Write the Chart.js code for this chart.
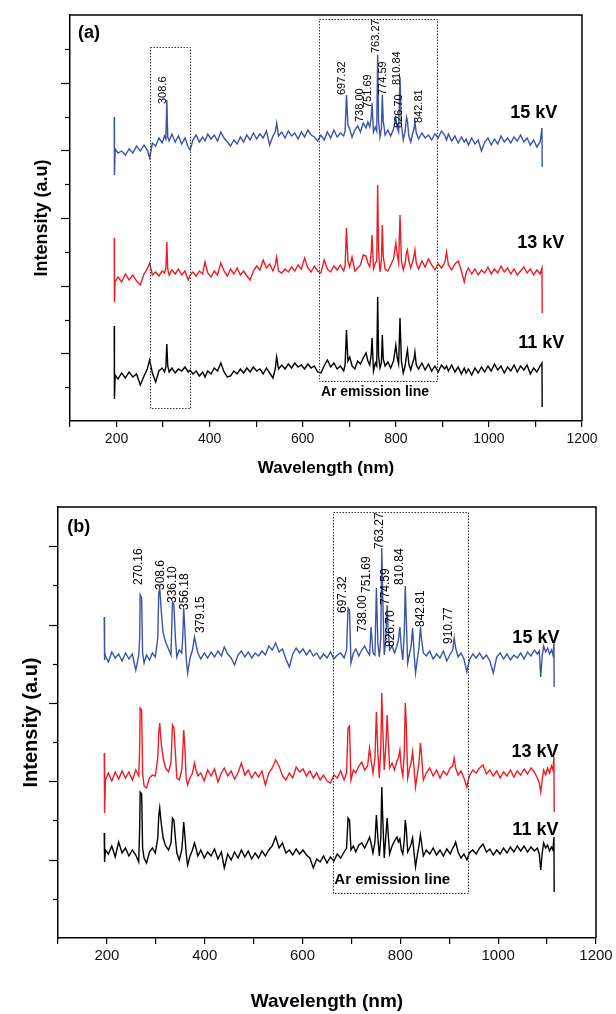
<!DOCTYPE html>
<html>
<head>
<meta charset="utf-8">
<script src="https://cdn.jsdelivr.net/npm/chart.js@4.4.1/dist/chart.umd.min.js"></script>
<style>
body { margin: 0; background: #fff; }
#wrapA { position: absolute; left: 0; top: 0; width: 616px; height: 490px; }
#wrapB { position: absolute; left: 0; top: 490px; width: 616px; height: 524px; }
</style>
</head>
<body>
<div id="wrapA"><canvas id="chartA"></canvas></div>
<div id="wrapB"><canvas id="chartB"></canvas></div>
<script>
// ---- panel (a) data: wavelength (nm) and stacked intensity (a.u.) ----
var wlA = [
  195, 195.5, 197, 203, 211, 219, 227, 235, 243, 251,
  259, 266, 271, 277, 284, 291, 298, 303, 306, 308,
  310, 313, 319, 326, 333, 340, 347, 354, 358, 364,
  371, 378, 385, 390, 396, 403, 410, 417, 424, 431,
  438, 445, 452, 459, 466, 473, 480, 487, 494, 501,
  508, 515, 522, 529, 536, 541, 544, 548, 555, 562,
  569, 576, 583, 590, 597, 604, 611, 618, 625, 632,
  639, 646, 653, 660, 667, 674, 681, 688, 691, 694,
  697, 701, 706, 712, 718, 724, 730, 736, 740, 744,
  747, 749, 752, 756, 759, 761, 763, 766, 769, 771,
  773, 777, 783, 789, 795, 800, 803, 806, 809, 812,
  816, 820, 823, 825, 828, 832, 836, 839, 841, 844,
  849, 856, 863, 870, 877, 884, 891, 898, 905, 909,
  913, 920, 927, 934, 941, 947, 951, 956, 963, 970,
  977, 984, 991, 998, 1005, 1012, 1019, 1026, 1033, 1040,
  1047, 1054, 1061, 1068, 1075, 1082, 1089, 1096, 1103, 1110,
  1114, 1114.5, 1115
];
var a15kV = [
  304, 246, 272, 268, 270, 266, 272, 268, 275, 270,
  276, 271, 263, 278, 275, 283, 278, 285, 282, 321,
  284, 280, 287, 279, 285, 277, 283, 274, 271, 281,
  286, 279, 284, 280, 287, 282, 286, 280, 289, 283,
  279, 275, 281, 277, 284, 279, 286, 281, 288, 282,
  287, 283, 290, 276, 285, 289, 298, 285, 289, 283,
  290, 285, 288, 282, 289, 284, 291, 286, 284, 280,
  286, 281, 289, 283, 291, 284, 288, 285, 290, 326,
  296, 292, 284, 291, 295, 289, 298, 293, 299, 294,
  303, 318, 289, 294, 290, 366, 300, 284, 292, 326,
  300, 286, 291, 285, 292, 303, 293, 289, 344, 296,
  281, 290, 304, 300, 285, 279, 287, 292, 299, 288,
  282, 288, 283, 286, 281, 287, 283, 290, 286, 281,
  287, 280, 285, 278, 284, 279, 282, 276, 283, 277,
  281, 270, 279, 283, 276, 282, 277, 285, 279, 283,
  278, 284, 280, 286, 279, 283, 276, 281, 274, 279,
  293, 254, 254
];
var a13kV = [
  183, 119, 139, 144, 139, 147, 141, 146, 140, 136,
  147, 152, 158, 146, 149, 145, 150, 148, 153, 179,
  152, 146, 151, 147, 152, 146, 150, 141, 146, 149,
  145, 150, 147, 159, 148, 144, 150, 146, 158, 150,
  145, 152, 147, 153, 146, 150, 145, 141, 150, 155,
  151, 161, 153, 157, 150, 156, 164, 150, 148, 152,
  149, 154, 150, 156, 152, 163, 153, 149, 155, 150,
  148, 161, 152, 149, 155, 151, 156, 150, 155, 193,
  160, 154, 164, 150, 153, 156, 166, 165, 158, 154,
  168, 186, 152, 158, 160, 236, 170, 149, 160, 196,
  165, 152, 150, 156, 162, 178, 166, 158, 206, 160,
  151, 158, 168, 171, 160, 153, 159, 165, 171, 158,
  152, 160, 154, 162, 156, 151, 157, 153, 158, 169,
  156, 151, 157, 160, 150, 139, 148, 153, 147, 152,
  146, 151, 148, 154, 147, 152, 148, 155, 149, 153,
  147, 152, 146, 150, 154, 148, 152, 146, 151, 147,
  153, 108, 108
];
var a11kV = [
  95, 22, 46, 42, 48, 43, 49, 44, 47, 36,
  45, 52, 61, 48, 39, 50, 53, 49, 54, 77,
  55, 49, 53, 48, 52, 50, 54, 49, 51, 47,
  50, 45, 49, 44, 50, 47, 53, 50, 58, 49,
  44, 45, 50, 47, 52, 48, 53, 49, 54, 50,
  52, 47, 53, 48, 43, 52, 64, 52, 56, 52,
  57, 53, 58, 54, 56, 52, 57, 53, 55, 49,
  48, 55, 61, 54, 58, 52, 55, 50, 56, 91,
  60, 64, 55, 52, 60, 57, 63, 68, 60, 56,
  66, 83, 50, 58, 55, 124, 65, 53, 58, 86,
  62, 55, 59, 53, 60, 76, 63, 57, 103, 60,
  48, 55, 66, 71, 57, 51, 58, 62, 69, 56,
  52, 58, 51, 57, 50, 55, 49, 56, 52, 55,
  50, 56, 49, 54, 47, 53, 48, 52, 46, 53,
  48, 54, 49, 55, 50, 57, 51, 55, 48, 54,
  50, 56, 49, 55, 51, 56, 47, 53, 49, 55,
  58, 14, 14
];

// ---- panel (b) data ----
var wlB = [
  194.5, 195, 195.5, 197, 203, 210, 217, 224, 231, 238,
  245, 252, 259, 265, 267, 268, 271, 273, 276, 281,
  287, 293, 299, 304, 306, 308, 311, 315, 320, 326,
  331, 334, 337, 340, 343, 348, 353, 355, 357, 359,
  362, 365, 370, 375, 379, 382, 386, 392, 399, 406,
  413, 420, 427, 434, 440, 447, 454, 461, 468, 475,
  482, 489, 496, 503, 510, 517, 524, 531, 538, 545,
  552, 559, 566, 573, 580, 587, 594, 601, 608, 615,
  622, 629, 636, 643, 650, 657, 664, 671, 678, 685,
  690, 693, 696, 699, 704, 709, 715, 721, 727, 733,
  737, 740, 744, 748, 751, 754, 757, 760, 762, 764,
  767, 770, 773, 775, 778, 783, 788, 793, 796, 799,
  802, 805, 808, 810, 812, 815, 819, 822, 825, 828,
  831, 835, 838, 841, 843, 847, 853, 860, 867, 874,
  881, 888, 895, 902, 907, 910, 913, 918, 924, 930,
  936, 941, 948, 955, 962, 969, 976, 983, 990, 997,
  1004, 1011, 1018, 1025, 1032, 1039, 1046, 1053, 1060, 1067,
  1074, 1080, 1084, 1087, 1090, 1093, 1097, 1101, 1105, 1109,
  1112, 1114, 1114.5, 1115
];
var b15kV = [
  321, 278, 287, 282, 276, 286, 280, 284, 277, 285,
  279, 284, 268, 282, 300, 343, 340, 285, 275, 283,
  278, 285, 281, 300, 345, 350, 328, 305, 296, 289,
  283, 336, 333, 300, 281, 288, 285, 300, 330, 312,
  280, 265, 280, 288, 301, 294, 285, 279, 285, 280,
  286, 281, 287, 282, 291, 284, 280, 273, 283, 287,
  281, 286, 280, 285, 282, 287, 283, 292, 288, 295,
  286, 289, 279, 271, 284, 290, 285, 289, 283, 288,
  282, 285, 279, 284, 280, 286, 279, 283, 285, 280,
  288, 330, 328, 275, 285, 289, 282, 288, 292, 286,
  283, 311, 285, 283, 350, 295, 281, 300, 390, 340,
  283, 298, 333, 310, 288, 292, 285, 292, 298, 311,
  290, 278, 305, 352, 320, 275, 285, 292, 310, 285,
  265, 280, 290, 311, 300, 285, 282, 287, 279, 284,
  280, 287, 277, 284, 288, 300, 290, 281, 285, 279,
  266, 278, 284, 280, 285, 279, 283, 277, 265, 281,
  285, 279, 284, 278, 283, 280, 285, 279, 286, 282,
  288, 284, 287, 261, 282, 292, 286, 290, 284, 288,
  283, 295, 251, 251
];
var b13kV = [
  185, 160, 125, 158, 165, 157, 166, 159, 167, 160,
  166, 158, 168, 162, 190, 230, 228, 165, 152, 150,
  160, 163, 162, 180, 205, 215, 195, 180, 170, 166,
  175, 213, 210, 185, 160, 158, 168, 185, 208, 195,
  160, 153, 160, 165, 175, 168, 162, 165, 157, 168,
  162, 169, 156, 165, 170, 162, 167, 159, 165, 175,
  163, 168, 160, 166, 161, 167, 153, 165, 170, 178,
  172, 162, 158, 165, 160, 171, 166, 169, 162, 167,
  160, 165, 158, 163, 157, 155, 163, 160, 167, 158,
  165, 210, 212, 158, 168, 165, 172, 176, 168, 172,
  190, 178, 165, 180, 226, 185, 160, 190, 245, 210,
  168, 190, 223, 200, 170, 175, 168, 177, 180, 188,
  170, 162, 185, 235, 215, 160, 170, 175, 186, 170,
  151, 165, 175, 195, 185, 158, 165, 170, 162, 168,
  160, 167, 163, 170, 172, 180, 170, 163, 167, 160,
  151, 162, 168, 165, 170, 173, 164, 168, 162, 167,
  160, 166, 162, 168, 161, 167, 163, 169, 164, 170,
  166, 160, 155, 146, 158, 168, 163, 170, 165, 172,
  168, 181, 126, 126
];
var b11kV = [
  105, 90, 76, 88, 84, 92, 81, 96, 85, 90,
  82, 88, 83, 76, 110, 146, 144, 90, 80, 75,
  86, 90, 85, 100, 122, 130, 115, 100, 92, 88,
  95, 120, 118, 100, 85, 78, 88, 100, 116, 105,
  85, 73, 82, 88, 95, 90, 82, 88, 80, 86,
  82, 89, 79, 86, 70, 84, 78, 86, 80, 88,
  81, 87, 79, 85, 80, 87, 82, 88, 92, 101,
  90, 95, 85, 88, 83, 89, 84, 88, 83, 80,
  70, 79, 76, 82, 75, 81, 77, 84, 80, 86,
  90, 120, 118, 88, 92, 86, 93, 95, 90, 96,
  101, 95, 85, 96, 123, 100, 82, 100, 151, 120,
  80, 100, 120, 105, 84, 92, 97, 101, 96, 99,
  88, 84, 98, 118, 110, 86, 90, 94, 100, 85,
  71, 84, 92, 103, 96, 82, 88, 84, 90, 83,
  88, 82, 89, 84, 90, 92, 96, 86, 80, 84,
  78, 85, 88, 84, 90, 94, 86, 89, 83, 88,
  84, 90, 85, 91, 86, 92, 87, 92, 86, 91,
  87, 90, 84, 68, 85, 95, 90, 93, 87, 91,
  88, 101, 46, 46
];

var seriesNames = ['15 kV', '13 kV', '11 kV'];
var seriesColors = ['#3b54a6', '#ee1c25', '#000000'];

// peak labels: text, wavelength anchor, intensity anchor
var peaksA = [
  ['308.6', 300, 317], ['697.32', 684, 326], ['738.00', 722, 299], ['751.69', 741, 313],
  ['763.27', 758, 368], ['774.59', 772, 326], ['810.84', 802, 336], ['826.70', 807, 293],
  ['842.81', 849, 298]
];
var peaksB = [
  ['270.16', 265, 353], ['308.6', 309, 348], ['336.10', 335, 335], ['356.18', 359, 328],
  ['379.15', 391, 305], ['697.32', 683, 325], ['738.00', 722, 306], ['751.69', 732, 345],
  ['763.27', 758, 389], ['774.59', 771, 333], ['810.84', 799, 353], ['826.70', 780, 291],
  ['842.81', 841, 311], ['910.77', 899, 294]
];

var FONT = '"Liberation Sans", Arial, sans-serif';
Chart.defaults.font.family = FONT;
Chart.defaults.color = '#000';

function pts(wl, vals) {
  return wl.map(function (w, i) { return { x: w, y: vals[i] }; });
}

var extras = {
  id: 'extras',
  afterDraw: function (chart, args, o) {
    var ctx = chart.ctx, a = chart.chartArea;
    var xs = chart.scales.x, ys = chart.scales.y;
    function X(v) { return xs.getPixelForValue(v); }
    function Y(v) { return ys.getPixelForValue(v); }
    ctx.save();
    // top/right frame
    ctx.strokeStyle = '#000';
    ctx.lineWidth = 1.5;
    ctx.beginPath();
    ctx.moveTo(a.left, a.top);
    ctx.lineTo(a.right, a.top);
    ctx.lineTo(a.right, a.bottom);
    ctx.stroke();
    // y ticks, long/short alternating
    ctx.lineWidth = 1.2;
    for (var k = 1; k < o.yCount; k++) {
      var py = Math.round(Y(k * o.yStep)) + 0.5;
      var len = (k % 2 === 0) ? 9 : 5;
      ctx.beginPath();
      ctx.moveTo(a.left - len, py);
      ctx.lineTo(a.left, py);
      ctx.stroke();
    }
    // dotted boxes
    ctx.setLineDash([1.5, 1.5]);
    ctx.lineWidth = 1;
    ctx.strokeStyle = '#333';
    o.boxes.forEach(function (b) {
      ctx.strokeRect(Math.round(X(b[0])) + 0.5, Math.round(Y(b[2])) + 0.5,
        Math.round(X(b[1]) - X(b[0])), Math.round(Y(b[3]) - Y(b[2])));
    });
    ctx.setLineDash([]);
    // rotated peak labels
    ctx.fillStyle = '#000';
    ctx.font = o.peakFont + 'px ' + FONT;
    ctx.textAlign = 'left';
    ctx.textBaseline = 'middle';
    o.peaks.forEach(function (p) {
      ctx.save();
      ctx.translate(X(p[1]), Y(p[2]));
      ctx.rotate(-Math.PI / 2);
      ctx.fillText(p[0], 0, 0);
      ctx.restore();
    });
    // bold texts
    o.texts.forEach(function (t) {
      ctx.font = 'bold ' + t[3] + 'px ' + FONT;
      ctx.fillText(t[0], X(t[1]), Y(t[2]));
    });
    ctx.restore();
  }
};

function makeChart(id, wl, series, cfg) {
  var datasets = series.map(function (s, i) {
    return {
      label: seriesNames[i],
      data: pts(wl, s),
      borderColor: seriesColors[i],
      borderWidth: 1.4,
      pointRadius: 0,
      fill: false,
      tension: 0
    };
  });
  return new Chart(document.getElementById(id), {
    type: 'line',
    data: { datasets: datasets },
    options: {
      responsive: true,
      maintainAspectRatio: false,
      animation: false,
      events: [],
      layout: { padding: { top: cfg.padTop, right: cfg.padRight, left: 0, bottom: 0 } },
      plugins: {
        legend: { display: false },
        tooltip: { enabled: false },
        extras: cfg.extras
      },
      scales: {
        x: {
          type: 'linear',
          min: 100,
          max: 1200,
          afterFit: function (s) { s.height = cfg.xHeight; },
          border: { color: '#000', width: 1.5 },
          grid: { drawOnChartArea: false, drawTicks: true, tickLength: 6, color: '#000', lineWidth: 1.2 },
          ticks: {
            stepSize: 100,
            autoSkip: false,
            maxRotation: 0,
            padding: cfg.tickPad,
            color: '#111',
            font: { size: cfg.tickSize },
            callback: function (v) { return v % 200 === 0 ? String(v) : ''; }
          },
          title: {
            display: true,
            text: 'Wavelength (nm)',
            color: '#000',
            font: { size: cfg.xTitleSize, weight: 'bold' },
            padding: { top: 0, bottom: cfg.xTitlePad }
          }
        },
        y: {
          min: 0,
          max: cfg.yMax,
          afterFit: function (s) { s.width = cfg.yWidth; },
          border: { color: '#000', width: 1.5 },
          grid: { display: false },
          ticks: { display: false },
          title: {
            display: true,
            text: 'Intensity (a.u)',
            color: '#000',
            font: { size: cfg.yTitleSize, weight: 'bold' },
            padding: { top: cfg.yTitlePad, bottom: 0 }
          }
        }
      }
    },
    plugins: [extras]
  });
}

makeChart('chartA', wlA, [a15kV, a13kV, a11kV], {
  padTop: 15, padRight: 34, xHeight: 69, yWidth: 70, yMax: 406,
  tickPad: 4, tickSize: 14, xTitleSize: 17, xTitlePad: 11, yTitleSize: 18, yTitlePad: 31,
  extras: {
    yCount: 12, yStep: 406 / 12, peakFont: 11, peaks: peaksA,
    boxes: [[271.6, 358, 374, 13], [635.7, 890, 402, 40]],
    texts: [
      ['(a)', 117, 388, 18], ['15 kV', 1046, 308, 18], ['13 kV', 1061, 178, 18],
      ['11 kV', 1063, 78, 18], ['Ar emission line', 639, 29, 14]
    ]
  }
});

makeChart('chartB', wlB, [b15kV, b13kV, b11kV], {
  padTop: 17, padRight: 20, xHeight: 76, yWidth: 58, yMax: 431,
  tickPad: 3, tickSize: 15, xTitleSize: 19, xTitlePad: 1, yTitleSize: 20, yTitlePad: 19,
  extras: {
    yCount: 11, yStep: 431 / 11, peakFont: 12, peaks: peaksB,
    boxes: [[662.3, 937.6, 426, 45]],
    texts: [
      ['(b)', 119, 411, 18], ['15 kV', 1029, 300, 18], ['13 kV', 1027, 186, 18],
      ['11 kV', 1029, 108, 18], ['Ar emission line', 665, 58, 15]
    ]
  }
});
</script>
</body>
</html>
